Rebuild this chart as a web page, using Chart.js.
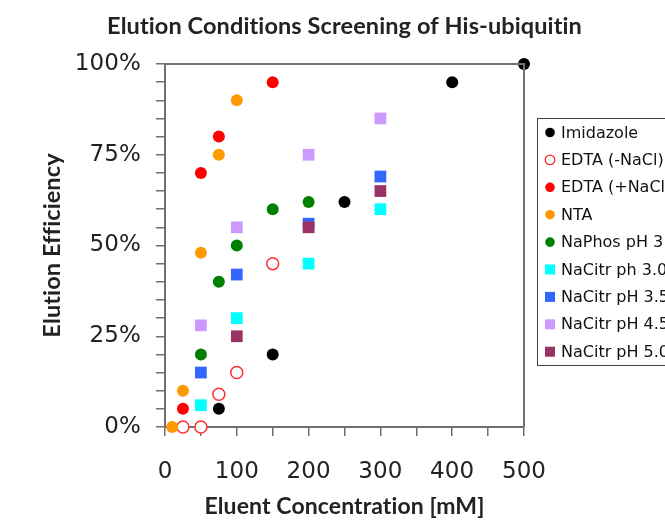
<!DOCTYPE html>
<html><head><meta charset="utf-8">
<script src="https://cdn.jsdelivr.net/npm/chart.js@4/dist/chart.umd.min.js"></script>
<style>html,body{margin:0;padding:0;background:#fff}#wrap{width:665px;height:520px}</style>
</head><body><div id="wrap"><canvas id="c" width="665" height="520"></canvas></div>
<script>
const chartTitle = 'Elution Conditions Screening of His-ubiquitin';
const xTitle = 'Eluent Concentration [mM]';
const yTitle = 'Elution Efficiency';
const seriesNames = ['Imidazole','EDTA (-NaCl)','EDTA (+NaCl)','NTA','NaPhos pH 3','NaCitr ph 3.0','NaCitr pH 3.5','NaCitr pH 4.5','NaCitr pH 5.0'];

const imidazoleX = [75,150,250,400,500];   const imidazoleY = [5,20,62,95,100];
const edtaMinusX = [25,50,75,100,150];     const edtaMinusY = [0,0,9,15,45];
const edtaPlusX  = [25,50,75,150];         const edtaPlusY  = [5,70,80,95];
const ntaX       = [10,25,50,75,100];      const ntaY       = [0,10,48,75,90];
const naphosX    = [50,75,100,150,200];    const naphosY    = [20,40,50,60,62];
const citr30X    = [50,100,200,300];       const citr30Y    = [6,30,45,60];
const citr35X    = [50,100,200,300];       const citr35Y    = [15,42,56,69];
const citr45X    = [50,100,200,300];       const citr45Y    = [28,55,75,85];
const citr50X    = [100,200,300];          const citr50Y    = [25,55,65];

const xs = [imidazoleX, edtaMinusX, edtaPlusX, ntaX, naphosX, citr30X, citr35X, citr45X, citr50X];
const ys = [imidazoleY, edtaMinusY, edtaPlusY, ntaY, naphosY, citr30Y, citr35Y, citr45Y, citr50Y];
const fills   = ['#000000','#ffffff','#ff0000','#ff9900','#008000','#00ffff','#3366ff','#cc99ff','#993366'];
const borders = ['#000000','#ff3030','#ff0000','#ff9900','#008000','#00ffff','#3366ff','#cc99ff','#993366'];
const shapes  = ['circle','circle','circle','circle','circle','rect','rect','rect','rect'];

const datasets = seriesNames.map((name,i)=>({
  label: name,
  data: xs[i].map((x,j)=>({x:x, y:ys[i][j]})),
  backgroundColor: fills[i],
  borderColor: borders[i],
  pointStyle: shapes[i],
  pointRadius: shapes[i]==='rect' ? 8.3 : 6,
  pointHoverRadius: shapes[i]==='rect' ? 8.3 : 6,
  pointBorderWidth: i===1 ? 1.5 : 0,
  showLine: false,
  clip: false,
  order: seriesNames.length - i
}));

const frame = {
  id:'frame',
  beforeDraw(chart){
    // tiny letter spacing: keeps "ti" from forming a ligature, as in the original
    if ('letterSpacing' in chart.ctx) chart.ctx.letterSpacing = '0.1px';
  },
  afterDatasetsDraw(chart){
    const {ctx, chartArea:a} = chart;
    ctx.save();
    ctx.strokeStyle = '#707070'; ctx.lineWidth = 2;
    ctx.beginPath();
    ctx.moveTo(a.left, a.top); ctx.lineTo(a.right, a.top); ctx.lineTo(a.right, a.bottom);
    ctx.stroke();
    ctx.restore();
  },
  afterDraw(chart){
    const ctx = chart.ctx, a = chart.chartArea;
    ctx.save();
    ctx.font = 'bold 23.5px Lato'; ctx.fillStyle = '#222';
    ctx.textAlign = 'center'; ctx.textBaseline = 'middle';
    ctx.fillText(chartTitle, (a.left + a.right) / 2, 26);
    const bx = 537.5, by = 118.5, bw = 200, bh = 247;
    ctx.fillStyle = '#fff'; ctx.fillRect(bx, by, bw, bh);
    ctx.strokeStyle = '#444'; ctx.lineWidth = 1; ctx.strokeRect(bx, by, bw, bh);
    ctx.font = '16px "DejaVu Sans"'; ctx.textBaseline = 'middle'; ctx.textAlign = 'left';
    if ('letterSpacing' in ctx) ctx.letterSpacing = '0px';
    chart.data.datasets.forEach((ds,i)=>{
      const cy = 132.5 + i*27.4, cx = 550;
      ctx.fillStyle = ds.backgroundColor; ctx.strokeStyle = ds.borderColor;
      if (ds.pointStyle === 'rect') {
        ctx.fillRect(cx-5, cy-5, 10, 10);
      } else {
        ctx.beginPath(); ctx.arc(cx, cy, 4.8, 0, Math.PI*2); ctx.fill();
        if (ds.pointBorderWidth) { ctx.lineWidth = 1.3; ctx.stroke(); }
      }
      ctx.fillStyle = '#111';
      ctx.fillText(ds.label, 561, cy + 1);
    });
    ctx.restore();
  }
};

new Chart(document.getElementById('c'), {
  type: 'scatter',
  data: { datasets },
  plugins: [frame],
  options: {
    responsive: false, animation: false,
    layout: { padding: { left: 0, right: 141, top: 64, bottom: 0 } },
    plugins: {
      legend: { display: false },
      tooltip: { enabled: false },
      title: { display: false }
    },
    scales: {
      x: {
        type: 'linear', min: 0, max: 500,
        afterFit(s){ s.height = 93; },
        border: { color: '#707070', width: 2 },
        grid: { drawOnChartArea: false, tickLength: 9, color: '#707070', lineWidth: 1.5 },
        ticks: { stepSize: 50, autoSkip: false, maxRotation: 0, padding: 22, color: '#222',
          font: { family: 'DejaVu Sans', size: 23 },
          callback: v => (v % 100 === 0 ? String(v) : '') },
        title: { display: true, text: xTitle, color: '#222',
          font: { family: 'Lato', weight: 'bold', size: 23, lineHeight: 1.2 },
          padding: { top: 0, bottom: 0 } }
      },
      y: {
        type: 'linear', min: 0, max: 100,
        afterFit(s){ s.width = 165; },
        border: { color: '#707070', width: 2 },
        grid: { drawOnChartArea: false, tickLength: 9, color: '#707070', lineWidth: 1.5 },
        ticks: { stepSize: 5, autoSkip: false, padding: 15, color: '#222',
          font: { family: 'DejaVu Sans', size: 23 },
          callback: v => (v % 25 === 0 ? v + '%' : '') },
        title: { display: true, text: yTitle, color: '#222',
          font: { family: 'Lato', weight: 'bold', size: 23.5, lineHeight: 1.2 },
          padding: { top: 38, bottom: 0 } }
      }
    }
  }
});
</script>
</body></html>
